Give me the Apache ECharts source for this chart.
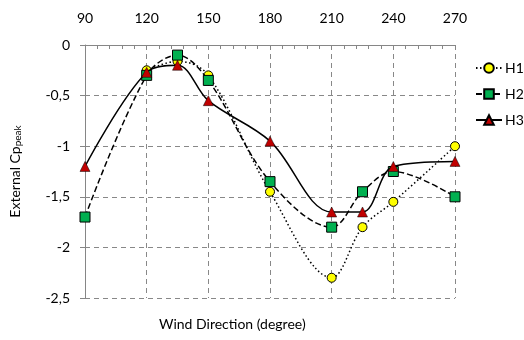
<!DOCTYPE html>
<html><head><meta charset="utf-8">
<script src="https://cdn.jsdelivr.net/npm/echarts@6/dist/echarts.min.js"></script>
<style>html,body{margin:0;padding:0;background:#fff}#c{width:524px;height:340px}</style>
</head><body><div id="c"></div>
<script>
const directions = [90, 120, 135, 150, 180, 210, 225, 240, 270];
const h1 = [null, -0.25, -0.16, -0.3, -1.45, -2.3, -1.8, -1.55, -1.0];
const h2 = [-1.7, -0.3, -0.1, -0.35, -1.35, -1.8, -1.45, -1.25, -1.5];
const h3 = [-1.2, -0.27, -0.2, -0.55, -0.95, -1.65, -1.65, -1.2, -1.15];
const xTicks = [90, 120, 150, 180, 210, 240, 270];
const yTicks = [0, -0.5, -1, -1.5, -2, -2.5];

const pts = arr => directions.map((d, i) => [d, arr[i]]).filter(p => p[1] !== null);
const font = 'Lato';
const chart = echarts.init(document.getElementById('c'), null, {renderer: 'canvas'});
chart.setOption({
  animation: false,
  textStyle: {fontFamily: font},
  grid: {left: 83, top: 45, right: 69, bottom: 42},
  title: {
    text: 'Wind Direction (degree)', left: 154, top: 312,
    textStyle: {color: '#000', fontSize: 14, fontWeight: 'normal', fontFamily: font}
  },
  xAxis: {
    type: 'value', position: 'top', min: xTicks[0], max: xTicks[xTicks.length - 1], interval: 30,
    axisLine: {lineStyle: {color: '#868686', width: 1}},
    axisTick: {inside: true, length: 4, lineStyle: {color: '#868686'}},
    minorTick: {show: true, splitNumber: 5, length: 4, lineStyle: {color: '#868686'}},
    axisLabel: {color: '#000', fontSize: 14, fontFamily: font, margin: 20},
    splitLine: {show: true, lineStyle: {color: '#888', type: [5, 4], width: 1}}
  },
  yAxis: {
    type: 'value', min: yTicks[yTicks.length - 1], max: yTicks[0], interval: 0.5,
    axisLine: {show: true, lineStyle: {color: '#868686', width: 1}},
    axisTick: {show: true, length: 5, lineStyle: {color: '#868686'}},
    axisLabel: {color: '#000', fontSize: 14, fontFamily: font, margin: 15,
      formatter: v => String(v).replace('.', ',')},
    splitLine: {show: true, lineStyle: {color: '#888', type: [5, 4], width: 1}},
    name: '{a|External Cp}{b|peak}', nameLocation: 'middle', nameGap: 62, nameRotate: 90,
    nameTextStyle: {rich: {
      a: {color: '#000', fontSize: 14, fontFamily: font},
      b: {color: '#000', fontSize: 10, fontFamily: font, padding: [6, 0, 0, 0]}
    }}
  },
  legend: {
    orient: 'vertical', left: 470, top: 56, itemGap: 12, itemWidth: 26, itemHeight: 12,
    textStyle: {color: '#000', fontSize: 14, fontFamily: font, padding: [0, 0, 0, -2]},
    data: ['H1', 'H2', 'H3']
  },
  series: [
    {name: 'H1', type: 'line', data: pts(h1), smooth: 0.35, symbol: 'circle', symbolSize: 9,
      itemStyle: {color: '#FFFF00', borderColor: '#000', borderWidth: 1},
      lineStyle: {color: '#000', width: 1.5, type: [1.5, 2.5]}, z: 3},
    {name: 'H2', type: 'line', data: pts(h2), smooth: 0.35, symbol: 'rect', symbolSize: 10,
      itemStyle: {color: '#00B050', borderColor: '#000', borderWidth: 1},
      lineStyle: {color: '#000', width: 1.5, type: [6, 3]}, z: 4},
    {name: 'H3', type: 'line', data: pts(h3), smooth: 0.35, symbol: 'triangle', symbolSize: 10,
      itemStyle: {color: '#C00000', borderColor: '#000', borderWidth: 0.5},
      lineStyle: {color: '#000', width: 1.5, type: 'solid'}, z: 5}
  ]
});
</script></body></html>
